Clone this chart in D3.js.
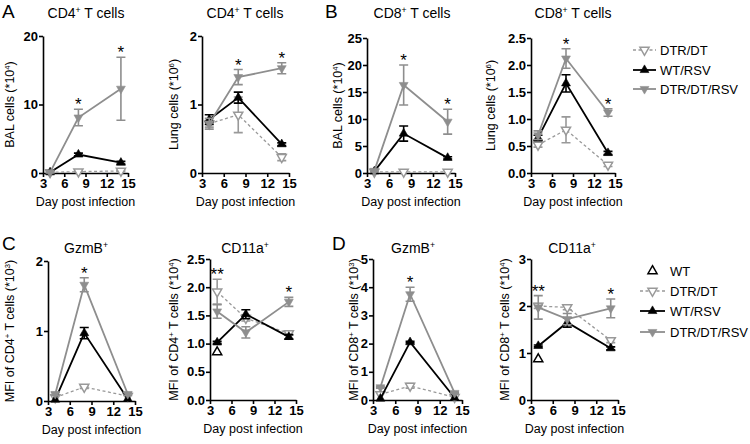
<!DOCTYPE html>
<html><head><meta charset="utf-8">
<script src="https://cdn.jsdelivr.net/npm/d3@7"></script>
<style>body{margin:0;background:#fff}svg{display:block}text{font-family:"Liberation Sans",Arial,sans-serif}</style>
</head><body><svg id="c" width="750" height="444"></svg>
<script>
// ---------- data ----------
const days = [4, 8, 14];
const xTicks = [3, 6, 9, 12, 15];
const legendTop = ["DTR/DT", "WT/RSV", "DTR/DT/RSV"];
const legendBottom = ["WT", "DTR/DT", "WT/RSV", "DTR/DT/RSV"];

// A: CD4+ BAL (*10^4)
const aBalDtrDt = [0.1, 0.2, 0.3],   aBalDtrDtSem = [0, 0.1, 0.1];
const aBalWtRsv = [0.1, 2.7, 1.5],   aBalWtRsvSem = [0, 0.2, 0.2];
const aBalDtrRsv = [0.1, 8.1, 12.3], aBalDtrRsvSem = [0.1, 1.2, 4.6];
const aBalStars = [8, 14];
// A: CD4+ lung (*10^6)
const aLungDtrDt = [0.72, 0.85, 0.23], aLungDtrDtSem = [0.05, 0.26, 0.05];
const aLungWtRsv = [0.78, 1.1, 0.42],  aLungWtRsvSem = [0.07, 0.08, 0.02];
const aLungDtrRsv = [0.72, 1.4, 1.53], aLungDtrRsvSem = [0.08, 0.11, 0.08];
const aLungStars = [8, 14];
// B: CD8+ BAL (*10^4)
const bBalDtrDt = [0.2, 0.2, 0.2],   bBalDtrDtSem = [0, 0, 0];
const bBalWtRsv = [0.3, 7.3, 2.8],   bBalWtRsvSem = [0, 1.4, 0.2];
const bBalDtrRsv = [0.4, 16.3, 9.5], bBalDtrRsvSem = [0.2, 3.7, 2.3];
const bBalStars = [8, 14];
// B: CD8+ lung (*10^6)
const bLungDtrDt = [0.52, 0.8, 0.15], bLungDtrDtSem = [0.04, 0.24, 0.03];
const bLungWtRsv = [0.65, 1.66, 0.37], bLungWtRsvSem = [0.05, 0.16, 0.03];
const bLungDtrRsv = [0.7, 2.12, 1.12], bLungDtrRsvSem = [0.08, 0.18, 0.07];
const bLungStars = [8, 14];
// C: GzmB+ MFI of CD4+ (*10^3)
const cGzmDtrDt = [0.05, 0.2, 0.07],  cGzmDtrDtSem = [0, 0.02, 0];
const cGzmWtRsv = [0.02, 0.97, 0.03], cGzmWtRsvSem = [0, 0.08, 0];
const cGzmDtrRsv = [0.1, 1.66, 0.1],  cGzmDtrRsvSem = [0.02, 0.1, 0.02];
const cGzmStars = [8];
// C: CD11a+ MFI of CD4+ (*10^4)
const cCdWt = [0.85];
const cCdDtrDt = [1.92, 1.45, 1.18],  cCdDtrDtSem = [0.22, 0.05, 0.03];
const cCdWtRsv = [1.02, 1.52, 1.12],  cCdWtRsvSem = [0.02, 0.08, 0.04];
const cCdDtrRsv = [1.57, 1.2, 1.74],  cCdDtrRsvSem = [0.12, 0.1, 0.08];
const cCdStars = [4, 14], cCdStarText = ["**", "*"];
// D: GzmB+ MFI of CD8+ (*10^3)
const dGzmDtrDt = [0.2, 0.5, 0.1],    dGzmDtrDtSem = [0, 0.08, 0];
const dGzmWtRsv = [0.05, 2.05, 0.08], dGzmWtRsvSem = [0, 0.03, 0];
const dGzmDtrRsv = [0.45, 3.75, 0.25], dGzmDtrRsvSem = [0.03, 0.25, 0.03];
const dGzmStars = [8];
// D: CD11a+ MFI of CD8+ (*10^4)
const dCdWt = [0.87];
const dCdDtrDt = [2.0, 1.97, 1.27],   dCdDtrDtSem = [0.05, 0.05, 0.05];
const dCdWtRsv = [1.15, 1.65, 1.1],   dCdWtRsvSem = [0.02, 0.1, 0.03];
const dCdDtrRsv = [1.97, 1.72, 1.95], dCdDtrRsvSem = [0.25, 0.12, 0.2];
const dCdStars = [4, 14], dCdStarText = ["**", "*"];

// ---------- styles ----------
const styles = {
  "WT":         {color: "#000", line: false, dir: "up", fill: false},
  "DTR/DT":     {color: "#999", line: true, dash: "3,2.5", lw: 1.3, dir: "down", fill: false},
  "WT/RSV":     {color: "#000", line: true, dash: null, lw: 1.8, dir: "up", fill: true},
  "DTR/DT/RSV": {color: "#8e8e8e", line: true, dash: null, lw: 1.8, dir: "down", fill: true}
};

function S(vals, sem) { return {vals, sem}; }

const panels = [
  {letter: "A", lx: 2, ly: 18, title: [["CD4"], ["+", 1], [" T cells"]], tx: 86, ty: 18,
   ylab: [["BAL cells (*10"], ["4", 1], [")"]], ylx: 14,
   x0: 43, x1: 128, yb: 173, yt: 36, ymax: 20, yticks: [0, 10, 20], fmt: d3.format("d"),
   series: {"DTR/DT": S(aBalDtrDt, aBalDtrDtSem), "WT/RSV": S(aBalWtRsv, aBalWtRsvSem), "DTR/DT/RSV": S(aBalDtrRsv, aBalDtrRsvSem)},
   stars: aBalStars},
  {title: [["CD4"], ["+", 1], [" T cells"]], tx: 245, ty: 18,
   ylab: [["Lung cells (*10"], ["6", 1], [")"]], ylx: 178,
   x0: 202, x1: 289, yb: 173, yt: 36, ymax: 2, yticks: [0, 1, 2], fmt: d3.format("d"),
   series: {"DTR/DT": S(aLungDtrDt, aLungDtrDtSem), "WT/RSV": S(aLungWtRsv, aLungWtRsvSem), "DTR/DT/RSV": S(aLungDtrRsv, aLungDtrRsvSem)},
   stars: aLungStars},
  {letter: "B", lx: 325, ly: 18, title: [["CD8"], ["+", 1], [" T cells"]], tx: 412, ty: 18,
   ylab: [["BAL cells (*10"], ["4", 1], [")"]], ylx: 342,
   x0: 367, x1: 455, yb: 173, yt: 38, ymax: 25, yticks: [0, 5, 10, 15, 20, 25], fmt: d3.format("d"),
   series: {"DTR/DT": S(bBalDtrDt, bBalDtrDtSem), "WT/RSV": S(bBalWtRsv, bBalWtRsvSem), "DTR/DT/RSV": S(bBalDtrRsv, bBalDtrRsvSem)},
   stars: bBalStars},
  {title: [["CD8"], ["+", 1], [" T cells"]], tx: 573, ty: 18,
   ylab: [["Lung cells (*10"], ["6", 1], [")"]], ylx: 495,
   x0: 531, x1: 615, yb: 173, yt: 38, ymax: 2.5, yticks: [0, 0.5, 1, 1.5, 2, 2.5], fmt: d3.format(".1f"),
   series: {"DTR/DT": S(bLungDtrDt, bLungDtrDtSem), "WT/RSV": S(bLungWtRsv, bLungWtRsvSem), "DTR/DT/RSV": S(bLungDtrRsv, bLungDtrRsvSem)},
   stars: bLungStars},
  {letter: "C", lx: 2, ly: 250, title: [["GzmB"], ["+", 1]], tx: 86, ty: 253,
   ylab: [["MFI of CD4"], ["+", 1], [" T cells (*10"], ["3", 1], [")"]], ylx: 14,
   x0: 48, x1: 135, yb: 401, yt: 261, ymax: 2, yticks: [0, 1, 2], fmt: d3.format("d"),
   series: {"DTR/DT": S(cGzmDtrDt, cGzmDtrDtSem), "WT/RSV": S(cGzmWtRsv, cGzmWtRsvSem), "DTR/DT/RSV": S(cGzmDtrRsv, cGzmDtrRsvSem)},
   stars: cGzmStars},
  {title: [["CD11a"], ["+", 1]], tx: 245, ty: 253,
   ylab: [["MFI of CD4"], ["+", 1], [" T cells (*10"], ["4", 1], [")"]], ylx: 178,
   x0: 210, x1: 296, yb: 400, yt: 259, ymax: 2.5, yticks: [0, 0.5, 1, 1.5, 2, 2.5], fmt: d3.format(".1f"),
   wt: cCdWt,
   series: {"DTR/DT": S(cCdDtrDt, cCdDtrDtSem), "WT/RSV": S(cCdWtRsv, cCdWtRsvSem), "DTR/DT/RSV": S(cCdDtrRsv, cCdDtrRsvSem)},
   stars: cCdStars, starText: cCdStarText},
  {letter: "D", lx: 332, ly: 250, title: [["GzmB"], ["+", 1]], tx: 413, ty: 253,
   ylab: [["MFI of CD8"], ["+", 1], [" T cells (*10"], ["3", 1], [")"]], ylx: 358,
   x0: 373, x1: 462, yb: 400, yt: 259, ymax: 5, yticks: [0, 1, 2, 3, 4, 5], fmt: d3.format("d"),
   series: {"DTR/DT": S(dGzmDtrDt, dGzmDtrDtSem), "WT/RSV": S(dGzmWtRsv, dGzmWtRsvSem), "DTR/DT/RSV": S(dGzmDtrRsv, dGzmDtrRsvSem)},
   stars: dGzmStars},
  {title: [["CD11a"], ["+", 1]], tx: 572, ty: 253,
   ylab: [["MFI of CD8"], ["+", 1], [" T cells (*10"], ["4", 1], [")"]], ylx: 509,
   x0: 531, x1: 618, yb: 400, yt: 259, ymax: 3, yticks: [0, 1, 2, 3], fmt: d3.format("d"),
   wt: dCdWt,
   series: {"DTR/DT": S(dCdDtrDt, dCdDtrDtSem), "WT/RSV": S(dCdWtRsv, dCdWtRsvSem), "DTR/DT/RSV": S(dCdDtrRsv, dCdDtrRsvSem)},
   stars: dCdStars, starText: dCdStarText}
];

// ---------- drawing ----------
const svg = d3.select("#c");

function rich(t, parts, fs) {
  parts.forEach(p => {
    const ts = t.append("tspan").text(p[0]);
    if (p[1]) ts.attr("baseline-shift", "super").attr("font-size", fs * 0.62);
  });
}

function marker(g, x, y, st) {
  const size = st.fill ? 34 : 36;
  g.append("path").attr("d", d3.symbol(d3.symbolTriangle, size)())
    .attr("transform", `translate(${x},${y})` + (st.dir === "down" ? " rotate(180)" : ""))
    .attr("fill", st.fill ? st.color : "#fff")
    .attr("stroke", st.color).attr("stroke-width", st.fill ? 0.6 : 1.5);
}

panels.forEach(p => {
  const g = svg.append("g");
  const x = d3.scaleLinear().domain([3, 15]).range([p.x0, p.x1]);
  const y = d3.scaleLinear().domain([0, p.ymax]).range([p.yb, p.yt]);

  if (p.letter) g.append("text").attr("x", p.lx).attr("y", p.ly).attr("font-size", 19).text(p.letter);
  rich(g.append("text").attr("x", p.tx).attr("y", p.ty).attr("text-anchor", "middle").attr("font-size", 14), p.title, 14);
  rich(g.append("text").attr("transform", `translate(${p.ylx},${(p.yb + p.yt) / 2}) rotate(-90)`)
    .attr("text-anchor", "middle").attr("font-size", 12.5), p.ylab, 12.5);
  g.append("text").attr("x", (p.x0 + p.x1) / 2).attr("y", p.yb + 33).attr("text-anchor", "middle")
    .attr("font-size", 12.5).text("Day post infection");

  const ya = g.append("g").attr("transform", `translate(${p.x0},0)`)
    .call(d3.axisLeft(y).tickValues(p.yticks).tickFormat(p.fmt).tickSize(4).tickSizeOuter(0).tickPadding(1));
  const xa = g.append("g").attr("transform", `translate(0,${p.yb})`)
    .call(d3.axisBottom(x).tickValues(xTicks).tickSize(4).tickSizeOuter(0).tickPadding(2));
  [ya, xa].forEach(a => {
    a.select(".domain").attr("stroke", "#000").attr("stroke-width", 1.6);
    a.selectAll(".tick line").attr("stroke", "#000").attr("stroke-width", 1.6);
    a.selectAll(".tick text").attr("font-family", "Liberation Sans, Arial, sans-serif")
      .attr("font-size", 13).attr("font-weight", "bold").attr("fill", "#000");
  });

  const order = ["DTR/DT", "WT/RSV", "DTR/DT/RSV"];
  order.forEach(name => {
    const st = styles[name], s = p.series[name];
    const pts = days.map((d, i) => [x(d), y(s.vals[i])]);
    g.append("path").attr("d", d3.line()(pts)).attr("fill", "none")
      .attr("stroke", st.color).attr("stroke-width", st.lw).attr("stroke-dasharray", st.dash);
    days.forEach((d, i) => {
      if (s.sem[i] > 0) {
        const yh = y(s.vals[i] + s.sem[i]), yl = y(s.vals[i] - s.sem[i]), cx = x(d);
        const eb = g.append("path").attr("fill", "none").attr("stroke", st.color).attr("stroke-width", 1.6)
          .attr("d", `M${cx},${yh}V${yl}M${cx - 4.5},${yh}H${cx + 4.5}M${cx - 4.5},${yl}H${cx + 4.5}`);
      }
    });
    days.forEach((d, i) => marker(g, x(d), y(s.vals[i]), st));
  });
  if (p.wt) p.wt.forEach((v, i) => marker(g, x(days[i]), y(v), styles["WT"]));

  p.stars.forEach((d, k) => {
    const i = days.indexOf(d);
    const top = d3.max(order, n => p.series[n].vals[i] + p.series[n].sem[i]);
    g.append("text").attr("x", x(d)).attr("y", y(top) + 1).attr("text-anchor", "middle")
      .attr("font-size", 17).text(p.starText ? p.starText[k] : "*");
  });
});

function legend(items, ys, lx0, lx1, tx) {
  items.forEach((name, i) => {
    const st = styles[name], yy = ys[i];
    if (st.line) svg.append("line").attr("x1", lx0).attr("x2", lx1).attr("y1", yy).attr("y2", yy)
      .attr("stroke", st.color).attr("stroke-width", st.lw).attr("stroke-dasharray", st.dash);
    marker(svg, (lx0 + lx1) / 2, yy, st);
    svg.append("text").attr("x", tx).attr("y", yy).attr("dy", "0.36em").attr("font-size", 13).text(name);
  });
}
legend(legendTop, [50, 70, 89], 633, 656, 660);
legend(legendBottom, [271, 291, 311, 332], 640, 665, 670);
</script></body></html>
